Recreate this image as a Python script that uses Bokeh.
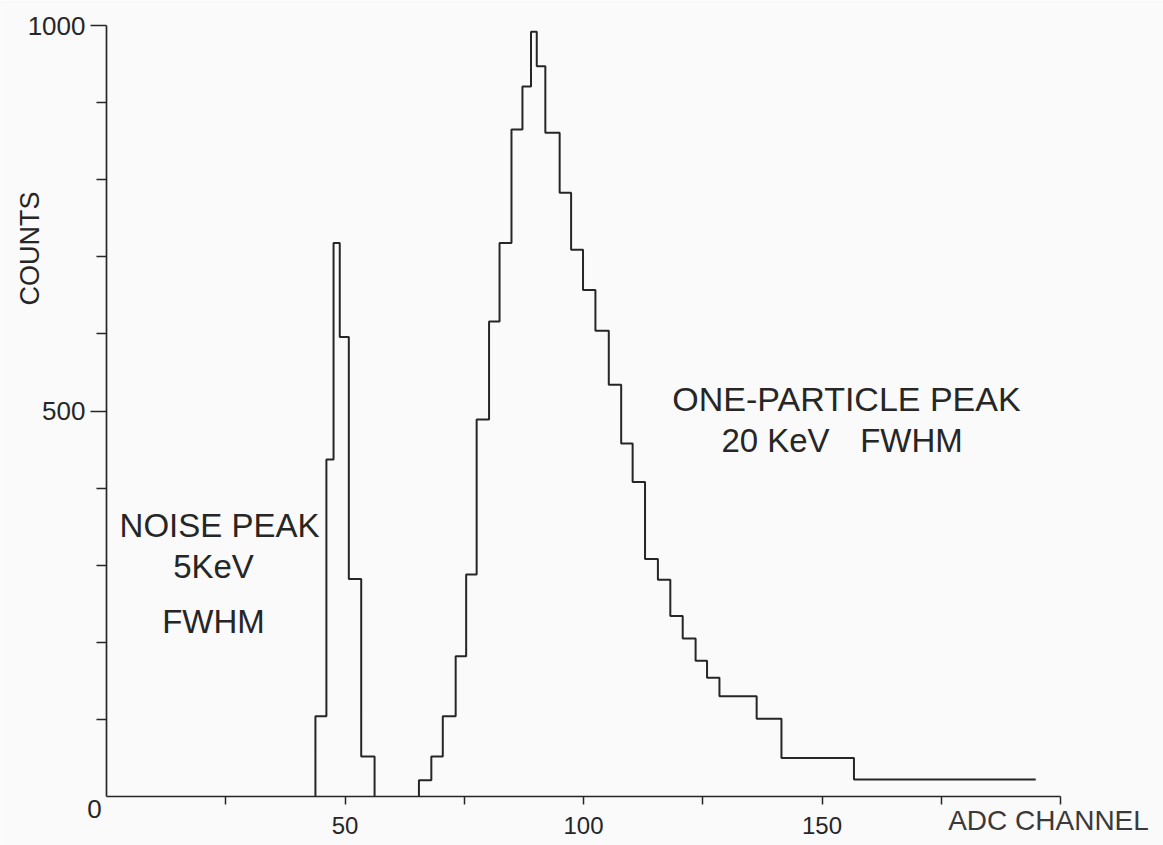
import math
from bokeh.plotting import figure
from bokeh.models import Range1d, FixedTicker, Label
from bokeh.embed import file_html
from bokeh.resources import INLINE

# ---------------- data ----------------
# noise peak: bin edges (ADC channel) and counts
noise_edges = [43.8, 46.1, 47.6, 48.9, 50.8, 53.4, 56.2]
noise_counts = [104, 437, 718, 596, 282, 52]

# one-particle peak: bin edges (ADC channel) and counts
main_edges = [65.5, 68.1, 70.5, 73.2, 75.4, 77.6, 80.2, 82.4, 84.9, 87.2,
              89.0, 90.2, 92.0, 95.0, 97.4, 99.9, 102.5, 105.3, 107.9, 110.3,
              112.9, 115.6, 118.2, 120.8, 123.5, 125.9, 128.5, 136.3, 141.5,
              156.7, 194.8]
main_counts = [21, 52, 104, 182, 288, 489, 616, 718, 865, 921,
               992, 947, 861, 783, 709, 657, 604, 534, 458, 408,
               308, 281, 234, 205, 176, 154, 130, 101, 50, 22]

x_labelled_ticks = [50, 100, 150]
x_plain_ticks = [25, 75, 125, 175, 200]
y_labelled_ticks = [500, 1000]
y_plain_ticks = [100, 200, 300, 400, 600, 700, 800, 900]

# ---------------- layout ----------------
W, H = 1163, 845
X0_PX, Y0_PX = 106, 796      # where channel 0 / count 0 sit on the page
PX_X = 4.77                  # pixels per ADC channel
PX_Y = 0.771                 # pixels per count

INK = "#262626"
PAPER = "#fafafa"
FONT = "Liberation Sans"


def dx(px):
    return (px - X0_PX) / PX_X


def dy(py):
    return (Y0_PX - py) / PX_Y


def step_outline(edges, counts, close=True):
    xs, ys = [edges[0]], [0]
    for i, c in enumerate(counts):
        xs += [edges[i], edges[i + 1]]
        ys += [c, c]
    if close:
        xs.append(edges[-1])
        ys.append(0)
    return xs, ys


p = figure(width=W, height=H, output_backend="svg", toolbar_location=None,
           x_range=Range1d(dx(0), dx(W)), y_range=Range1d(dy(H), dy(0)),
           min_border=0, background_fill_color=PAPER, border_fill_color=PAPER)
p.outline_line_color = None
p.grid.visible = False

# histograms
nx, ny = step_outline(noise_edges, noise_counts, close=True)
p.line(nx, ny, line_color=INK, line_width=2)
mx, my = step_outline(main_edges, main_counts, close=False)
p.line(mx, my, line_color=INK, line_width=2)

# x axis, drawn at count 0
xa = p.xaxis[0]
xa.fixed_location = 0
xa.bounds = (0, 200)
xa.ticker = FixedTicker(ticks=x_labelled_ticks, minor_ticks=x_plain_ticks)
xa.axis_line_color = INK
xa.axis_line_width = 1.7
xa.major_tick_line_color = INK
xa.minor_tick_line_color = INK
xa.major_tick_line_width = 1.5
xa.minor_tick_line_width = 1.5
xa.major_tick_out = 8
xa.major_tick_in = 0
xa.minor_tick_out = 8
xa.minor_tick_in = 0
xa.major_label_text_font = FONT
xa.major_label_text_font_size = "24px"
xa.major_label_text_color = INK
xa.major_label_standoff = 12

# y axis, drawn at channel 0
ya = p.yaxis[0]
ya.fixed_location = 0
ya.bounds = (0, 1000)
ya.ticker = FixedTicker(ticks=y_labelled_ticks, minor_ticks=y_plain_ticks)
ya.axis_line_color = INK
ya.axis_line_width = 1.7
ya.major_tick_line_color = INK
ya.minor_tick_line_color = INK
ya.major_tick_line_width = 1.5
ya.minor_tick_line_width = 1.5
ya.major_tick_out = 16
ya.major_tick_in = 0
ya.minor_tick_out = 10
ya.minor_tick_in = 0
ya.major_label_text_font = FONT
ya.major_label_text_font_size = "26px"
ya.major_label_text_color = INK
ya.major_label_standoff = 5


def add_text(px, py, text, size="33px", angle=0.0, color=INK):
    p.add_layout(Label(x=dx(px), y=dy(py), text=text, angle=angle,
                       text_align="center", text_baseline="middle",
                       text_font=FONT, text_font_size=size,
                       text_color=color))


add_text(94, 808, "0", size="26px")
add_text(29, 248, "COUNTS", size="27px", angle=math.pi / 2)
add_text(219, 525, "NOISE PEAK")
add_text(213, 566, "5KeV")
add_text(213, 621, "FWHM")
add_text(846, 398, "ONE-PARTICLE PEAK", size="34px")
add_text(775, 440, "20 KeV")
add_text(911, 440, "FWHM")
add_text(1048, 820, "ADC CHANNEL", size="28px", color="#3a3a3a")

open("out.html", "w").write(file_html(p, INLINE))
